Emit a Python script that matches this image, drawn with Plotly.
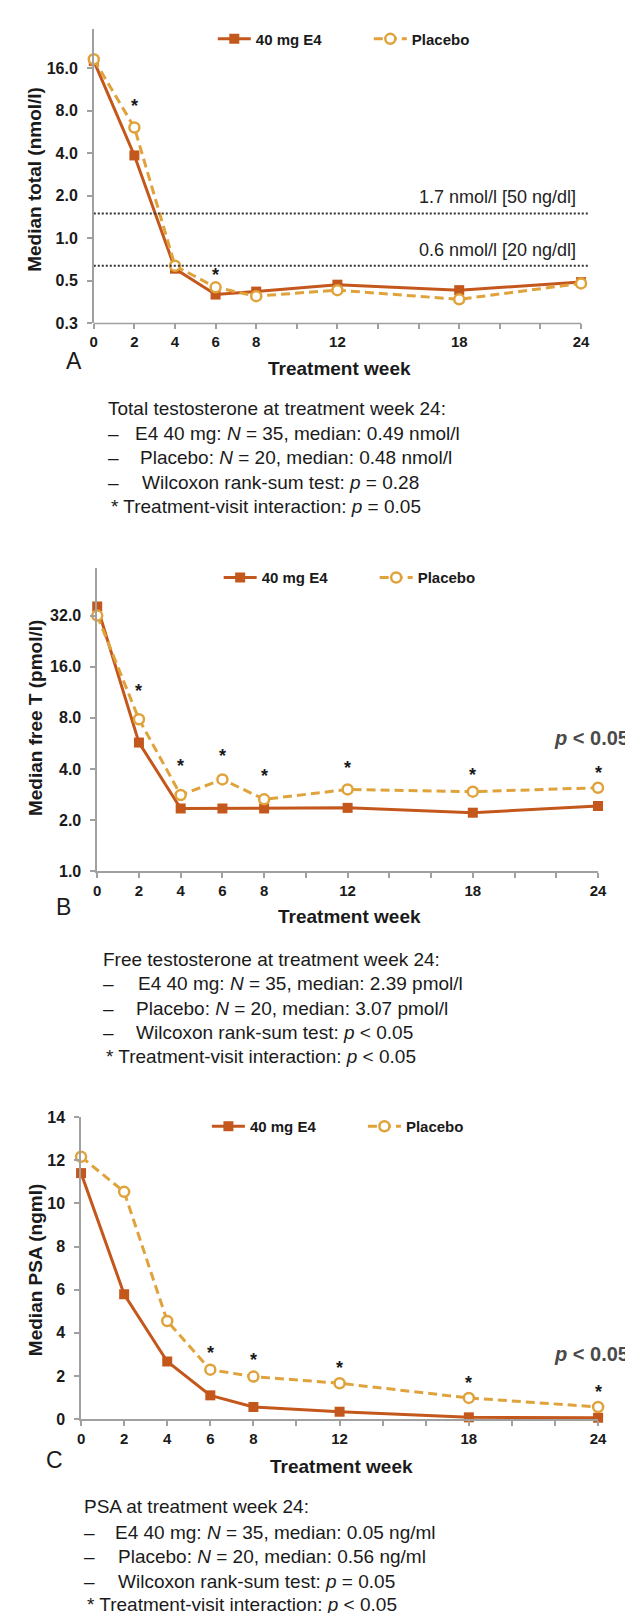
import numpy as np
import plotly.graph_objects as go

W, H = 633, 1613
FONT = "Liberation Sans, Arial, Helvetica, sans-serif"
C_E4 = "#C4581C"
C_PL = "#E0A33C"
AXC = "#A0A0A0"
TXT = "#1a1a1a"

# ---------------- data ----------------
weeks = [0, 2, 4, 6, 8, 12, 18, 24]
week_ticks = list(range(0, 25, 2))
week_labels = ["0", "2", "4", "6", "8", "", "12", "", "", "18", "", "", "24"]

tt_e4 = [18.0, 3.86, 0.61, 0.40, 0.42, 0.47, 0.43, 0.49]
tt_pl = [18.5, 6.08, 0.64, 0.45, 0.39, 0.43, 0.37, 0.48]
tt_ticks = [0.25, 0.5, 1, 2, 4, 8, 16]
tt_ticklabels = ["0.3", "0.5", "1.0", "2.0", "4.0", "8.0", "16.0"]
tt_star_weeks = [2, 6]
tt_star_vals = [8.9, 0.573]
tt_thresholds = [1.5, 0.64]
tt_threshold_labels = ["1.7 nmol/l [50 ng/dl]", "0.6 nmol/l [20 ng/dl]"]

ft_e4 = [36.2, 5.72, 2.34, 2.34, 2.34, 2.36, 2.21, 2.42]
ft_pl = [32.0, 7.85, 2.81, 3.47, 2.65, 3.03, 2.94, 3.10]
ft_ticks = [1, 2, 4, 8, 16, 32]
ft_ticklabels = ["1.0", "2.0", "4.0", "8.0", "16.0", "32.0"]
ft_star_weeks = [2, 4, 6, 8, 12, 18, 24]
ft_star_vals = [11.86, 4.29, 4.90, 3.75, 4.16, 3.78, 3.90]

psa_e4 = [11.41, 5.79, 2.67, 1.10, 0.56, 0.34, 0.08, 0.06]
psa_pl = [12.17, 10.54, 4.55, 2.29, 1.97, 1.66, 0.98, 0.56]
psa_ticks = [0, 2, 4, 6, 8, 10, 12, 14]
psa_star_weeks = [6, 8, 12, 18, 24]
psa_star_vals = [3.18, 2.85, 2.47, 1.78, 1.33]

series_names = ["40 mg E4", "Placebo"]

block_a = ["Total testosterone at treatment week 24:",
           "E4 40 mg: <i>N</i> = 35, median: 0.49 nmol/l",
           "Placebo: <i>N</i> = 20, median: 0.48 nmol/l",
           "Wilcoxon rank-sum test: <i>p</i> = 0.28",
           "* Treatment-visit interaction: <i>p</i> = 0.05"]
block_b = ["Free testosterone at treatment week 24:",
           "E4 40 mg: <i>N</i> = 35, median: 2.39 pmol/l",
           "Placebo: <i>N</i> = 20, median: 3.07 pmol/l",
           "Wilcoxon rank-sum test: <i>p</i> < 0.05",
           "* Treatment-visit interaction: <i>p</i> < 0.05"]
block_c = ["PSA at treatment week 24:",
           "E4 40 mg: <i>N</i> = 35, median: 0.05 ng/ml",
           "Placebo: <i>N</i> = 20, median: 0.56 ng/ml",
           "Wilcoxon rank-sum test: <i>p</i> = 0.05",
           "* Treatment-visit interaction: <i>p</i> < 0.05"]


def px(x):
    return x / W


def py(y):
    return 1 - y / H


fig = go.Figure()

panels = [
    dict(xa="x", ya="y", e4=tt_e4, pl=tt_pl, legend="legend"),
    dict(xa="x2", ya="y2", e4=ft_e4, pl=ft_pl, legend="legend2"),
    dict(xa="x3", ya="y3", e4=psa_e4, pl=psa_pl, legend="legend3"),
]
for p in panels:
    fig.add_trace(go.Scatter(
        x=weeks, y=p["e4"], name=series_names[0], mode="lines+markers",
        xaxis=p["xa"], yaxis=p["ya"], legend=p["legend"], cliponaxis=False,
        line=dict(color=C_E4, width=3),
        marker=dict(symbol="square", size=10, color=C_E4)))
    fig.add_trace(go.Scatter(
        x=weeks, y=p["pl"], name=series_names[1], mode="lines+markers",
        xaxis=p["xa"], yaxis=p["ya"], legend=p["legend"], cliponaxis=False,
        line=dict(color=C_PL, width=3, dash="9px,5px"),
        marker=dict(symbol="circle", size=10, color="white",
                    line=dict(color=C_PL, width=2.5))))

# threshold dotted lines (panel A)
for v in tt_thresholds:
    fig.add_trace(go.Scatter(
        x=[0, 24.42], y=[v, v], mode="lines", xaxis="x", yaxis="y",
        showlegend=False, hoverinfo="skip",
        line=dict(color="#333333", width=2, dash="2px,2px")))

annotations = []


# asterisks
def add_stars(wks, vals, xref, yref, log):
    for w, v in zip(wks, vals):
        annotations.append(dict(
            x=w, y=np.log10(v) if log else v, xref=xref, yref=yref,
            text="*", showarrow=False, yshift=-2,
            font=dict(family=FONT, size=18, color=TXT, weight="bold")))


add_stars(tt_star_weeks, tt_star_vals, "x", "y", True)
add_stars(ft_star_weeks, ft_star_vals, "x2", "y2", True)
add_stars(psa_star_weeks, psa_star_vals, "x3", "y3", False)

# threshold labels
for lab, ypix in zip(tt_threshold_labels, [182.7, 236.7]):
    annotations.append(dict(
        x=px(578), y=py(ypix), xref="paper", yref="paper", text=lab,
        showarrow=False, xanchor="right", yanchor="middle",
        font=dict(family=FONT, size=18, color="#222222")))


def ann(text, x, y, size, bold=False, anchor="left", angle=0, color=TXT):
    annotations.append(dict(
        x=px(x), y=py(y), xref="paper", yref="paper", text=text,
        showarrow=False, xanchor=anchor, yanchor="middle", textangle=angle,
        font=dict(family=FONT, size=size, color=color,
                  weight="bold" if bold else "normal")))


# y axis titles
ann("Median total (nmol/l)", 23, 165, 19, True, "center", -90)
ann("Median free T (pmol/l)", 24, 710, 19, True, "center", -90)
ann("Median PSA (ngml)", 24, 1268, 19, True, "center", -90)
# x axis titles
ann("Treatment week", 334.7, 356.7, 19, True, "center")
ann("Treatment week", 344.8, 910, 19, True, "center")
ann("Treatment week", 336, 1466, 19, True, "center")
# panel letters
ann("A", 63, 348.3, 23, False, "center")
ann("B", 53, 900, 23, False, "center")
ann("C", 43.6, 1459, 23, False, "center")
# p values
ann("<i>p</i> < 0.05", 632, 730, 20, True, "right", 0, "#4a4a4a")
ann("<i>p</i> < 0.05", 632, 1352.7, 20, True, "right", 0, "#4a4a4a")


# text blocks
def block(lines, x_head, x_dash, x_texts, x_star, ys):
    ann(lines[0], x_head, ys[0], 19)
    for i in range(3):
        ann("\u2013", x_dash, ys[i + 1], 19)
        ann(lines[i + 1], x_texts[i], ys[i + 1], 19)
    ann(lines[4], x_star, ys[4], 19)


block(block_a, 96, 96, [123.7, 129, 130.6], 99.4, [396.7, 421.7, 446.7, 471.7, 495.5])
block(block_b, 91.3, 91.3, [127, 125, 125], 94.1, [953.3, 977.7, 1002.7, 1027.3, 1051.5])
block(block_c, 71, 71, [103.4, 106.3, 106.3], 74.2, [1506.7, 1532.7, 1557.3, 1581.7, 1605.7])

# x-axis baseline for panel A (range extends past 24 for the dotted lines)
shapes = [dict(type="line", xref="paper", yref="paper",
               x0=px(83.5), x1=px(581), y0=py(310.7), y1=py(310.7),
               line=dict(color=AXC, width=1.5))]

tickfont_x = dict(family=FONT, size=15, color=TXT, weight="bold")
tickfont_y = dict(family=FONT, size=16, color=TXT, weight="bold")

common_x = dict(tickmode="array", tickvals=week_ticks, ticktext=week_labels,
                ticks="outside", ticklen=5, tickwidth=1.5, tickcolor=AXC,
                showgrid=False, zeroline=False, tickfont=tickfont_x,
                linecolor=AXC, linewidth=1.5, fixedrange=True)
common_y = dict(ticks="outside", ticklen=5, tickwidth=1.5, tickcolor=AXC,
                showgrid=False, zeroline=False, tickfont=tickfont_y,
                showline=True, linecolor=AXC, linewidth=1.5, tickmode="array",
                ticklabelstandoff=6)

legend_common = dict(orientation="h", xanchor="left", yanchor="middle",
                     bgcolor="rgba(0,0,0,0)", itemwidth=33,
                     font=dict(family=FONT, size=15, color=TXT, weight="bold"),
                     entrywidth=108, entrywidthmode="pixels", traceorder="normal")

fig.update_layout(
    width=W, height=H, margin=dict(l=0, r=0, t=0, b=0),
    paper_bgcolor="white", plot_bgcolor="white", showlegend=True,
    font=dict(family=FONT, color=TXT),
    xaxis=dict(common_x, domain=[px(83.5), px(590.3)], range=[0, 24.45],
               anchor="y", showline=False),
    yaxis=dict(common_y, domain=[py(310.7), py(13.3)], type="log",
               range=[np.log10(0.25), np.log10(30.2)], anchor="x",
               tickvals=tt_ticks, ticktext=tt_ticklabels),
    xaxis2=dict(common_x, domain=[px(87), px(598.3)], range=[0, 24],
                anchor="y2", showline=True),
    yaxis2=dict(common_y, domain=[py(864.3), py(558)], type="log",
                range=[0, np.log10(60.9)], anchor="x2",
                tickvals=ft_ticks, ticktext=ft_ticklabels),
    xaxis3=dict(common_x, domain=[px(70.5), px(598.4)], range=[0, 24],
                anchor="y3", showline=True),
    yaxis3=dict(common_y, domain=[py(1418), py(1113)], range=[0, 14],
                anchor="x3", tickvals=psa_ticks,
                ticktext=[str(t) for t in psa_ticks]),
    legend=dict(legend_common, x=px(205), y=py(23.3)),
    legend2=dict(legend_common, x=px(211), y=py(567.7)),
    legend3=dict(legend_common, x=px(199), y=py(1122.3)),
    annotations=annotations,
    shapes=shapes,
)

fig.write_html("out.html")
